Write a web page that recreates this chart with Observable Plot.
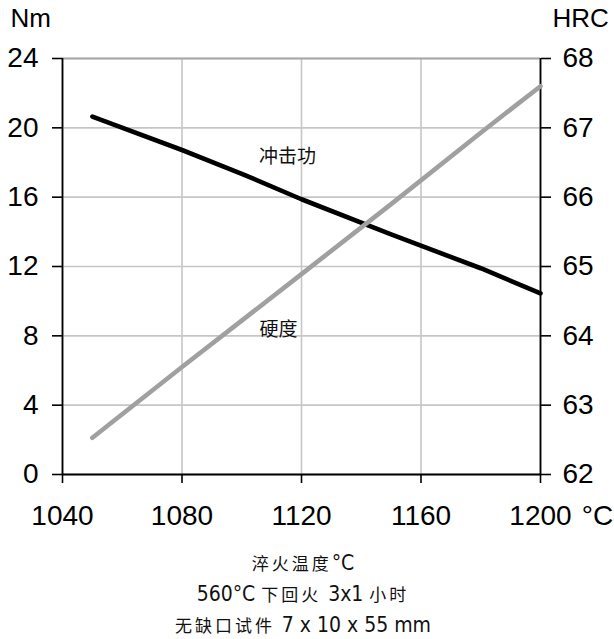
<!DOCTYPE html>
<html>
<head>
<meta charset="utf-8">
<script src="https://cdn.jsdelivr.net/npm/d3@7"></script>
<script src="https://cdn.jsdelivr.net/npm/@observablehq/plot@0.6"></script>
<style>
  html, body { margin: 0; padding: 0; background: white; }
  #wrap { width: 614px; }
  .cap { width: 606px; text-align: center; color: #111; font-family: "Noto Sans CJK SC", sans-serif; font-size: 17px; letter-spacing: 3px; white-space: nowrap; }
  .cap .n { font-family: "DejaVu Sans Condensed", "DejaVu Sans", sans-serif; font-stretch: condensed; font-weight: 300; font-size: 21px; letter-spacing: 0; }
</style>
</head>
<body>
<div id="wrap"></div>
<script>
// Impact energy (Nm) vs hardening temperature
const impactTemps = [1050, 1080, 1100, 1120, 1150, 1180, 1200];
const impactValues = [20.65, 18.72, 17.35, 15.88, 13.85, 11.9, 10.45];
// Hardness (HRC) vs hardening temperature
const hardTemps = [1050, 1080, 1120, 1150, 1180, 1200];
const hardValues = [62.53, 63.55, 64.89, 65.9, 66.93, 67.6];
// Tick labels
const xTicks = [1040, 1080, 1120, 1160, 1200];
const nmTicks = [0, 4, 8, 12, 16, 20, 24];
const hrcTicks = [62, 63, 64, 65, 66, 67, 68];
// Labels
const impactLabel = "冲击功";
const hardLabel = "硬度";
const leftUnit = "Nm";
const rightUnit = "HRC";
const xUnit = "°C";

const hrcToNm = h => (h - hrcTicks[0]) * (nmTicks[nmTicks.length - 1] - nmTicks[0]) / (hrcTicks[hrcTicks.length - 1] - hrcTicks[0]);

const impactData = impactTemps.map((t, i) => ({t, v: impactValues[i]}));
const hardData = hardTemps.map((t, i) => ({t, v: hrcToNm(hardValues[i])}));

const cjk = "Noto Sans CJK SC, sans-serif";

const chart = Plot.plot({
  width: 614,
  height: 540,
  marginLeft: 62,
  marginRight: 74,
  marginTop: 58,
  marginBottom: 66,
  style: {fontFamily: "Liberation Sans, Arial, sans-serif", fontSize: "28px", background: "white", overflow: "visible", color: "black"},
  x: {domain: [xTicks[0], xTicks[xTicks.length - 1]], label: null},
  y: {domain: [nmTicks[0], nmTicks[nmTicks.length - 1]], label: null},
  marks: [
    Plot.gridX(xTicks, {stroke: "#c6c6c6", strokeOpacity: 1, strokeWidth: 1.6}),
    Plot.gridY(nmTicks, {stroke: "#c6c6c6", strokeOpacity: 1, strokeWidth: 1.6}),
    Plot.ruleY([nmTicks[nmTicks.length - 1]], {stroke: "#a8a8a8", strokeWidth: 1.8}),
    Plot.ruleY([nmTicks[0]], {stroke: "black", strokeWidth: 1.8}),
    Plot.ruleX([xTicks[0], xTicks[xTicks.length - 1]], {stroke: "black", strokeWidth: 1.8}),
    Plot.axisX(xTicks, {anchor: "bottom", tickSize: 9, tickPadding: 22, stroke: "black", strokeWidth: 1.6, fill: "black", label: null, fontSize: 28,
      tickFormat: d => String(d)}),
    Plot.axisY(nmTicks, {anchor: "left", tickSize: 10, tickPadding: 14, stroke: "black", strokeWidth: 1.6, fill: "black", label: null, fontSize: 28}),
    Plot.axisY(nmTicks, {anchor: "right", tickSize: 10, tickPadding: 12, stroke: "black", strokeWidth: 1.6, fill: "black", label: null, fontSize: 28,
      tickFormat: (d, i) => hrcTicks[i]}),
    Plot.line(impactData, {x: "t", y: "v", stroke: "black", strokeWidth: 4.6, strokeLinejoin: "round"}),
    Plot.line(hardData, {x: "t", y: "v", stroke: "#a0a0a0", strokeWidth: 4.6, strokeLinejoin: "round"}),
    Plot.text([impactData[3]], {x: "t", y: "v", text: () => impactLabel, textAnchor: "middle", dx: -14, dy: -42, fontFamily: cjk, fontSize: 19, fill: "#111"}),
    Plot.text([hardData[2]], {x: "t", y: "v", text: () => hardLabel, textAnchor: "end", dx: -4, dy: 56, fontFamily: cjk, fontSize: 19, fill: "#111"}),
    Plot.text([leftUnit], {text: d => d, frameAnchor: "top-left", textAnchor: "start", lineAnchor: "middle", dx: -52, dy: -40, fill: "black", fontSize: 26}),
    Plot.text([rightUnit], {text: d => d, frameAnchor: "top-right", textAnchor: "start", lineAnchor: "middle", dx: 12, dy: -40, fill: "black", fontSize: 26}),
    Plot.text([xUnit], {text: d => d, frameAnchor: "bottom-right", textAnchor: "middle", lineAnchor: "top", dx: 57, dy: 31, fill: "black", fontSize: 28})
  ]
});
document.getElementById("wrap").appendChild(chart);

const captions = [
  [["c", "淬火温度"], ["n", "°C"]],
  [["n", "560°C "], ["c", "下回火 "], ["n", "3x1 "], ["c", "小时"]],
  [["c", "无缺口试件 "], ["n", "7 x 10 x 55 mm"]]
];
const heights = [38, 32, 30];
captions.forEach((parts, i) => {
  const div = document.createElement("div");
  div.className = "cap";
  div.style.height = heights[i] + "px";
  div.style.lineHeight = (i === 0 ? 46 : heights[i]) + "px";
  parts.forEach(([k, s]) => {
    const sp = document.createElement("span");
    if (k === "n") sp.className = "n";
    sp.textContent = s;
    div.appendChild(sp);
  });
  document.getElementById("wrap").appendChild(div);
});
</script>
</body>
</html>
